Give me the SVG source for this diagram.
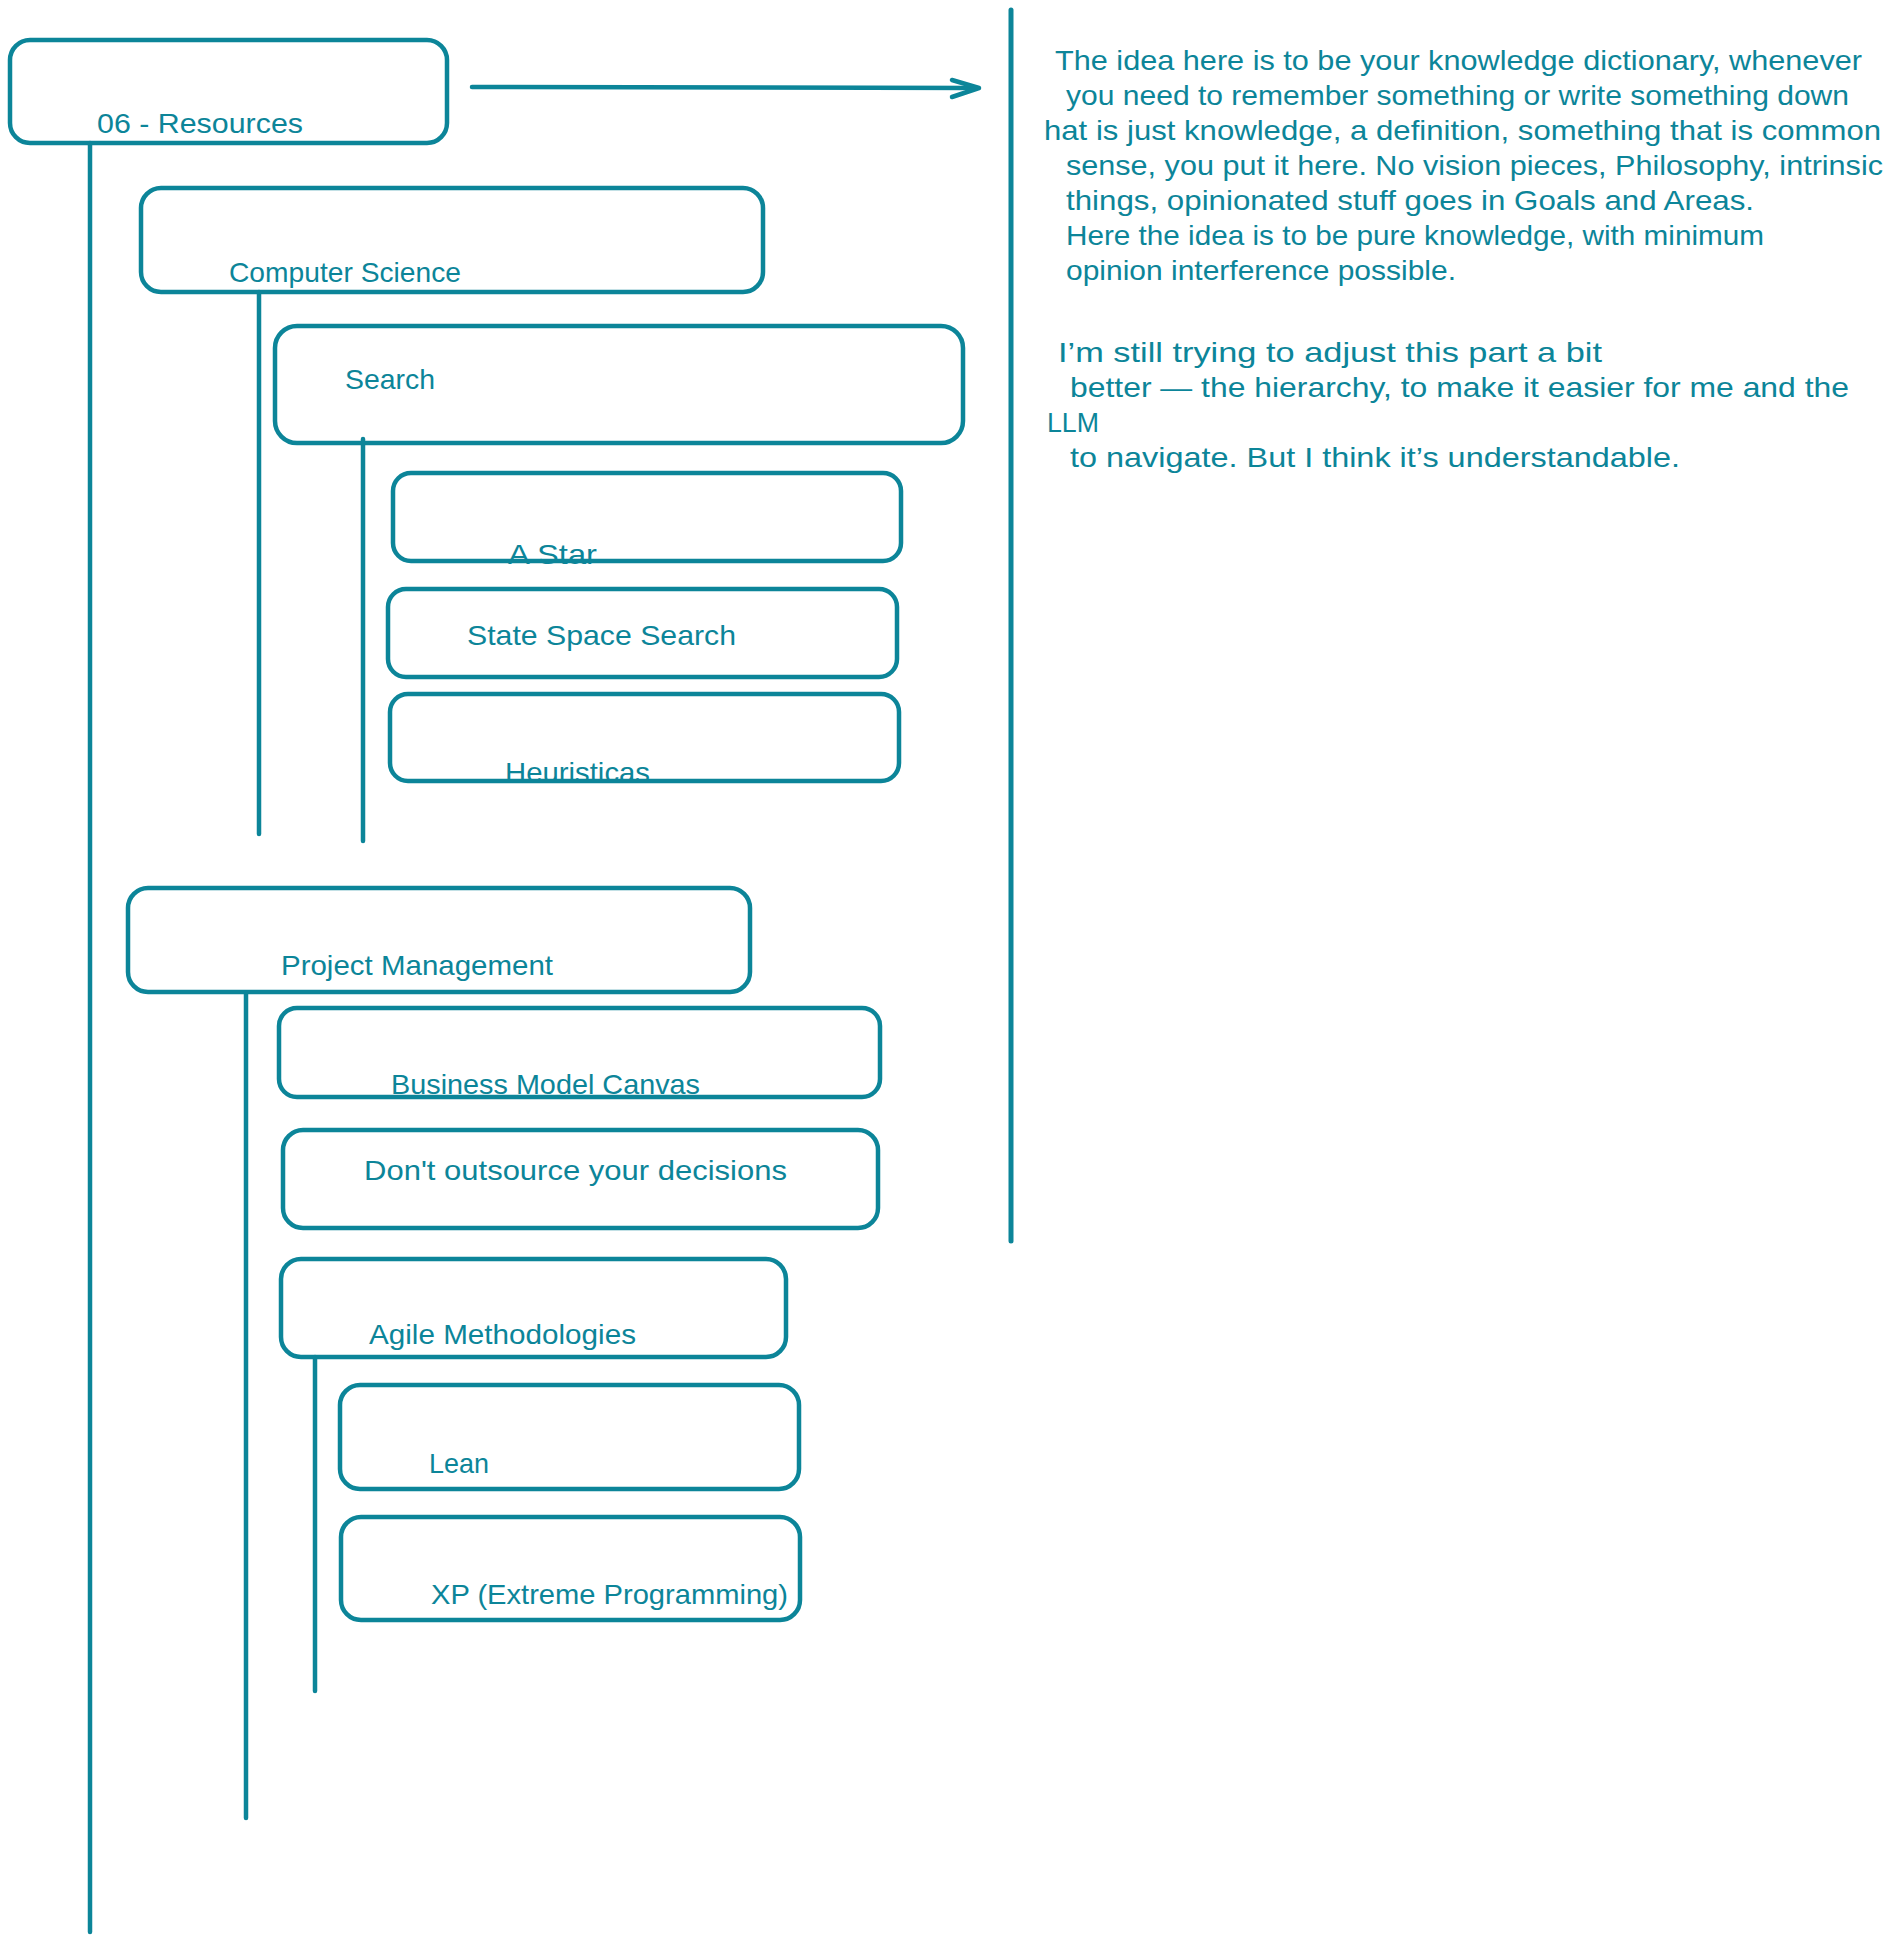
<svg xmlns="http://www.w3.org/2000/svg" width="1903" height="1943" viewBox="0 0 1903 1943">
<style>
.box{fill:none;stroke:#0c8599;stroke-width:4.5;stroke-linejoin:round}
.ln{fill:none;stroke:#0c8599;stroke-width:4.5;stroke-linecap:round;stroke-linejoin:round}
.t{font-family:"Liberation Sans","Open Sans",Arial,sans-serif;font-size:28px;fill:#0c8599}
</style>
<rect width="1903" height="1943" fill="#ffffff"/>
<g id="connectors">
<line class="ln" x1="90" y1="143" x2="90" y2="1932"/>
<line class="ln" x1="259" y1="292" x2="259" y2="834"/>
<line class="ln" x1="363" y1="439" x2="363" y2="841"/>
<line class="ln" x1="246" y1="993" x2="246" y2="1818"/>
<line class="ln" x1="315" y1="1357" x2="315" y2="1691"/>
<line class="ln" x1="472" y1="87" x2="977" y2="88"/>
<polyline class="ln" points="952,80 979,88 952,97"/>
<line class="ln" x1="1011" y1="10" x2="1011" y2="1241" style="stroke-width:5"/>
</g>
<g id="node-resources">
<rect class="box" x="10" y="40" width="437" height="103" rx="20"/>
<text class="t" x="97" y="133" textLength="206" lengthAdjust="spacingAndGlyphs">06 - Resources</text>
</g>
<g id="node-computer-science">
<rect class="box" x="141" y="188" width="622" height="104" rx="20"/>
<text class="t" x="229" y="282" textLength="232" lengthAdjust="spacingAndGlyphs">Computer Science</text>
</g>
<g id="node-search">
<rect class="box" x="275" y="326" width="688" height="117" rx="22"/>
<text class="t" x="345" y="389" textLength="90" lengthAdjust="spacingAndGlyphs">Search</text>
</g>
<g id="node-a-star">
<rect class="box" x="393" y="473" width="508" height="88" rx="18"/>
<text class="t" x="508" y="564" textLength="89" lengthAdjust="spacingAndGlyphs">A Star</text>
</g>
<g id="node-state-space-search">
<rect class="box" x="388" y="589" width="509" height="88" rx="18"/>
<text class="t" x="467" y="645" textLength="269" lengthAdjust="spacingAndGlyphs">State Space Search</text>
</g>
<g id="node-heuristicas">
<rect class="box" x="390" y="694" width="509" height="87" rx="18"/>
<text class="t" x="505" y="782" textLength="145" lengthAdjust="spacingAndGlyphs">Heuristicas</text>
</g>
<g id="node-project-management">
<rect class="box" x="128" y="888" width="622" height="104" rx="20"/>
<text class="t" x="281" y="975" textLength="272" lengthAdjust="spacingAndGlyphs">Project Management</text>
</g>
<g id="node-business-model-canvas">
<rect class="box" x="279" y="1008" width="601" height="89" rx="18"/>
<text class="t" x="391" y="1094" textLength="309" lengthAdjust="spacingAndGlyphs">Business Model Canvas</text>
</g>
<g id="node-dont-outsource">
<rect class="box" x="283" y="1130" width="595" height="98" rx="20"/>
<text class="t" x="364" y="1180" textLength="423" lengthAdjust="spacingAndGlyphs">Don't outsource your decisions</text>
</g>
<g id="node-agile">
<rect class="box" x="281" y="1259" width="505" height="98" rx="20"/>
<text class="t" x="369" y="1344" textLength="267" lengthAdjust="spacingAndGlyphs">Agile Methodologies</text>
</g>
<g id="node-lean">
<rect class="box" x="340" y="1385" width="459" height="104" rx="20"/>
<text class="t" x="429" y="1473" textLength="60" lengthAdjust="spacingAndGlyphs">Lean</text>
</g>
<g id="node-xp">
<rect class="box" x="341" y="1517" width="459" height="103" rx="20"/>
<text class="t" x="431" y="1604" textLength="357" lengthAdjust="spacingAndGlyphs">XP (Extreme Programming)</text>
</g>
<g id="note">
<text class="t" x="1055" y="70" textLength="807" lengthAdjust="spacingAndGlyphs">The idea here is to be your knowledge dictionary, whenever</text>
<text class="t" x="1066" y="105" textLength="783" lengthAdjust="spacingAndGlyphs">you need to remember something or write something down</text>
<text class="t" x="1044" y="140" textLength="837" lengthAdjust="spacingAndGlyphs">hat is just knowledge, a definition, something that is common</text>
<text class="t" x="1066" y="175" textLength="817" lengthAdjust="spacingAndGlyphs">sense, you put it here. No vision pieces, Philosophy, intrinsic</text>
<text class="t" x="1066" y="210" textLength="688" lengthAdjust="spacingAndGlyphs">things, opinionated stuff goes in Goals and Areas.</text>
<text class="t" x="1066" y="245" textLength="698" lengthAdjust="spacingAndGlyphs">Here the idea is to be pure knowledge, with minimum</text>
<text class="t" x="1066" y="280" textLength="390" lengthAdjust="spacingAndGlyphs">opinion interference possible.</text>
<text class="t" x="1058" y="362" textLength="544" lengthAdjust="spacingAndGlyphs">I’m still trying to adjust this part a bit</text>
<text class="t" x="1070" y="397" textLength="779" lengthAdjust="spacingAndGlyphs">better — the hierarchy, to make it easier for me and the</text>
<text class="t" x="1047" y="432" textLength="52" lengthAdjust="spacingAndGlyphs">LLM</text>
<text class="t" x="1070" y="467" textLength="610" lengthAdjust="spacingAndGlyphs">to navigate. But I think it’s understandable.</text>
</g>
</svg>
